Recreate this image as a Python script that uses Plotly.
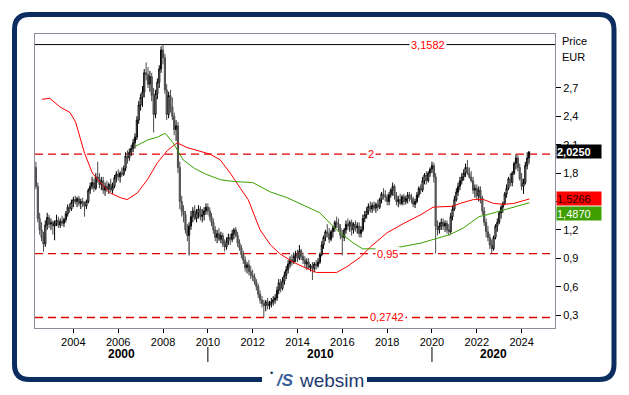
import datetime as dt
import pandas as pd
import plotly.graph_objects as go

# ---------------- data (monthly candles, May 2002 .. May 2024) ----------------
start_month = "2002-05-01"

opens = [
    1.86, 1.66, 1.32, 1.20, 1.12, 1.05, 1.25, 1.33,                          # 2002
    1.26, 1.28, 1.24, 1.27, 1.30, 1.25, 1.29, 1.27, 1.31, 1.37, 1.44, 1.42,  # 2003
    1.49, 1.52, 1.50, 1.53, 1.48, 1.50, 1.47, 1.45, 1.50, 1.62, 1.66, 1.70,  # 2004
    1.64, 1.76, 1.74, 1.68, 1.72, 1.62, 1.66, 1.63, 1.68, 1.62, 1.66, 1.75,  # 2005
    1.79, 1.76, 1.80, 1.79, 1.85, 1.98, 1.96, 2.02, 2.06, 2.12, 2.18, 2.36,  # 2006
    2.52, 2.60, 2.66, 2.86, 2.84, 2.74, 2.82, 2.62, 2.42, 2.64, 2.76, 2.90,  # 2007
    3.10, 3.02, 2.68, 2.42, 2.62, 2.50, 2.40, 2.26, 2.30, 1.86, 1.50, 1.40,  # 2008
    1.36, 1.20, 1.14, 1.24, 1.34, 1.40, 1.32, 1.38, 1.42, 1.34, 1.36, 1.40,  # 2009
    1.44, 1.40, 1.34, 1.28, 1.20, 1.12, 1.16, 1.10, 1.14, 1.05, 1.02, 1.08,  # 2010
    1.12, 1.10, 1.16, 1.20, 1.14, 1.06, 1.01, 0.94, 0.88, 0.80, 0.83, 0.76,  # 2011
    0.72, 0.70, 0.65, 0.60, 0.52, 0.46, 0.42, 0.40, 0.44, 0.40, 0.42, 0.44,  # 2012
    0.46, 0.48, 0.56, 0.64, 0.58, 0.66, 0.72, 0.78, 0.84, 0.88, 0.86, 0.92,  # 2013
    0.94, 0.90, 0.98, 0.92, 0.88, 0.84, 0.86, 0.80, 0.82, 0.79, 0.84, 0.82,  # 2014
    0.86, 0.94, 1.04, 1.12, 1.18, 1.16, 1.10, 1.18, 1.22, 1.28, 1.26, 1.22,  # 2015
    1.14, 1.12, 1.20, 1.26, 1.24, 1.28, 1.20, 1.26, 1.22, 1.24, 1.16, 1.20,  # 2016
    1.32, 1.36, 1.40, 1.45, 1.42, 1.46, 1.43, 1.47, 1.44, 1.52, 1.58, 1.56,  # 2017
    1.55, 1.50, 1.57, 1.62, 1.66, 1.56, 1.50, 1.52, 1.48, 1.55, 1.50, 1.53,  # 2018
    1.57, 1.54, 1.52, 1.47, 1.50, 1.57, 1.64, 1.62, 1.72, 1.78, 1.72, 1.80,  # 2019
    1.84, 1.88, 1.76, 1.24, 1.20, 1.24, 1.28, 1.24, 1.27, 1.20, 1.18, 1.34,  # 2020
    1.42, 1.52, 1.60, 1.66, 1.72, 1.76, 1.80, 1.86, 1.80, 1.76, 1.72, 1.62,  # 2021
    1.64, 1.56, 1.62, 1.54, 1.40, 1.28, 1.18, 1.12, 1.04, 1.00, 1.12, 1.24,  # 2022
    1.28, 1.38, 1.44, 1.48, 1.58, 1.64, 1.74, 1.70, 1.80, 1.90, 1.96, 1.86,  # 2023
    1.74, 1.66, 1.70, 1.88, 1.96,                                            # 2024
]
highs = [
    1.92, 1.70, 1.38, 1.28, 1.18, 1.30, 1.38, 1.36,
    1.32, 1.30, 1.30, 1.36, 1.34, 1.32, 1.35, 1.33, 1.40, 1.47, 1.48, 1.52,
    1.55, 1.56, 1.55, 1.56, 1.53, 1.54, 1.50, 1.52, 1.64, 1.70, 1.76, 1.74,
    1.80, 1.92, 1.80, 1.76, 1.76, 1.70, 1.72, 1.70, 1.74, 1.70, 1.78, 1.82,
    1.84, 1.82, 1.86, 1.88, 2.02, 2.04, 2.06, 2.10, 2.16, 2.22, 2.40, 2.56,
    2.64, 2.72, 2.90, 2.97, 2.92, 2.88, 2.86, 2.70, 2.68, 2.80, 2.94, 3.14,
    3.1582, 3.06, 2.74, 2.66, 2.68, 2.60, 2.44, 2.36, 2.34, 1.92, 1.56, 1.46,
    1.40, 1.26, 1.28, 1.40, 1.44, 1.46, 1.42, 1.46, 1.45, 1.42, 1.44, 1.48,
    1.48, 1.44, 1.38, 1.32, 1.24, 1.20, 1.22, 1.18, 1.17, 1.10, 1.12, 1.16,
    1.16, 1.20, 1.22, 1.23, 1.18, 1.10, 1.04, 0.98, 0.92, 0.86, 0.88, 0.82,
    0.78, 0.74, 0.68, 0.63, 0.56, 0.50, 0.46, 0.46, 0.48, 0.45, 0.48, 0.50,
    0.52, 0.60, 0.68, 0.68, 0.70, 0.76, 0.82, 0.88, 0.92, 0.94, 0.96, 0.98,
    0.99, 1.04, 1.00, 0.96, 0.92, 0.90, 0.90, 0.84, 0.86, 0.86, 0.88, 0.90,
    0.96, 1.08, 1.14, 1.20, 1.26, 1.22, 1.20, 1.24, 1.30, 1.34, 1.32, 1.26,
    1.20, 1.22, 1.30, 1.32, 1.30, 1.31, 1.28, 1.30, 1.28, 1.28, 1.24, 1.36,
    1.40, 1.44, 1.48, 1.50, 1.49, 1.50, 1.49, 1.52, 1.54, 1.60, 1.64, 1.62,
    1.58, 1.60, 1.64, 1.70, 1.68, 1.60, 1.56, 1.58, 1.57, 1.58, 1.56, 1.60,
    1.60, 1.58, 1.55, 1.53, 1.60, 1.66, 1.68, 1.76, 1.80, 1.82, 1.82, 1.86,
    1.92, 1.91, 1.80, 1.30, 1.28, 1.32, 1.32, 1.30, 1.30, 1.26, 1.38, 1.46,
    1.56, 1.64, 1.70, 1.76, 1.80, 1.84, 1.90, 1.94, 1.86, 1.82, 1.76, 1.68,
    1.68, 1.66, 1.66, 1.56, 1.44, 1.32, 1.24, 1.16, 1.10, 1.14, 1.26, 1.32,
    1.40, 1.46, 1.50, 1.60, 1.68, 1.76, 1.80, 1.82, 1.92, 2.00, 1.99, 1.90,
    1.80, 1.74, 1.92, 2.02, 2.03,
]
lows = [
    1.63, 1.28, 1.15, 1.08, 0.97, 1.02, 1.20, 1.22,
    1.20, 1.15, 1.09, 1.24, 1.22, 1.22, 1.24, 1.23, 1.28, 1.34, 1.38, 1.40,
    1.44, 1.47, 1.44, 1.45, 1.42, 1.44, 1.34, 1.42, 1.48, 1.58, 1.63, 1.60,
    1.62, 1.70, 1.64, 1.62, 1.58, 1.56, 1.60, 1.58, 1.60, 1.58, 1.64, 1.70,
    1.72, 1.70, 1.76, 1.77, 1.82, 1.90, 1.93, 1.98, 2.02, 2.06, 2.15, 2.32,
    2.46, 2.50, 2.60, 2.78, 2.70, 2.66, 2.56, 2.23, 2.38, 2.58, 2.70, 2.86,
    2.95, 2.64, 2.36, 2.38, 2.44, 2.36, 2.20, 2.14, 1.80, 1.42, 1.34, 1.28,
    1.16, 1.08, 0.93, 1.20, 1.28, 1.30, 1.28, 1.32, 1.30, 1.28, 1.30, 1.36,
    1.36, 1.30, 1.24, 1.16, 1.08, 1.06, 1.08, 1.06, 1.02, 0.97, 0.99, 1.04,
    1.04, 1.07, 1.10, 1.12, 1.02, 0.98, 0.90, 0.84, 0.76, 0.74, 0.72, 0.68,
    0.66, 0.62, 0.56, 0.48, 0.42, 0.38, 0.2742, 0.34, 0.36, 0.36, 0.38, 0.40,
    0.42, 0.45, 0.52, 0.54, 0.56, 0.62, 0.68, 0.74, 0.80, 0.82, 0.84, 0.86,
    0.86, 0.88, 0.88, 0.84, 0.80, 0.78, 0.78, 0.76, 0.67, 0.75, 0.78, 0.80,
    0.84, 0.92, 1.00, 1.08, 1.12, 1.06, 1.08, 1.12, 1.18, 1.22, 1.18, 1.10,
    0.93, 1.08, 1.16, 1.20, 1.18, 1.14, 1.16, 1.18, 1.16, 1.12, 1.12, 1.18,
    1.28, 1.32, 1.36, 1.38, 1.38, 1.40, 1.38, 1.40, 1.42, 1.48, 1.52, 1.50,
    1.46, 1.46, 1.54, 1.56, 1.52, 1.46, 1.44, 1.46, 1.46, 1.46, 1.47, 1.48,
    1.50, 1.48, 1.44, 1.43, 1.48, 1.54, 1.58, 1.60, 1.68, 1.68, 1.70, 1.76,
    1.80, 1.70, 0.95, 1.14, 1.16, 1.20, 1.20, 1.18, 1.16, 1.14, 1.16, 1.30,
    1.40, 1.50, 1.56, 1.62, 1.68, 1.72, 1.76, 1.78, 1.74, 1.70, 1.58, 1.54,
    1.52, 1.50, 1.48, 1.36, 1.24, 1.12, 1.08, 1.00, 0.95, 0.98, 1.10, 1.18,
    1.26, 1.32, 1.38, 1.46, 1.54, 1.62, 1.66, 1.66, 1.78, 1.84, 1.82, 1.72,
    1.62, 1.58, 1.68, 1.84, 1.90,
]
closes = [
    1.66, 1.32, 1.20, 1.12, 1.05, 1.25, 1.33, 1.26,
    1.28, 1.24, 1.27, 1.30, 1.25, 1.29, 1.27, 1.31, 1.37, 1.44, 1.42, 1.49,
    1.52, 1.50, 1.53, 1.48, 1.50, 1.47, 1.45, 1.50, 1.62, 1.66, 1.70, 1.64,
    1.76, 1.74, 1.68, 1.72, 1.62, 1.66, 1.63, 1.68, 1.62, 1.66, 1.75, 1.79,
    1.76, 1.80, 1.79, 1.85, 1.98, 1.96, 2.02, 2.06, 2.12, 2.18, 2.36, 2.52,
    2.60, 2.66, 2.86, 2.84, 2.74, 2.82, 2.62, 2.42, 2.64, 2.76, 2.90, 3.10,
    3.02, 2.68, 2.42, 2.62, 2.50, 2.40, 2.26, 2.30, 1.86, 1.50, 1.40, 1.36,
    1.20, 1.14, 1.24, 1.34, 1.40, 1.32, 1.38, 1.42, 1.34, 1.36, 1.40, 1.44,
    1.40, 1.34, 1.28, 1.20, 1.12, 1.16, 1.10, 1.14, 1.05, 1.02, 1.08, 1.12,
    1.10, 1.16, 1.20, 1.14, 1.06, 1.01, 0.94, 0.88, 0.80, 0.83, 0.76, 0.72,
    0.70, 0.65, 0.60, 0.52, 0.46, 0.42, 0.40, 0.44, 0.40, 0.42, 0.44, 0.46,
    0.48, 0.56, 0.64, 0.58, 0.66, 0.72, 0.78, 0.84, 0.88, 0.86, 0.92, 0.94,
    0.90, 0.98, 0.92, 0.88, 0.84, 0.86, 0.80, 0.82, 0.79, 0.84, 0.82, 0.86,
    0.94, 1.04, 1.12, 1.18, 1.16, 1.10, 1.18, 1.22, 1.28, 1.26, 1.22, 1.14,
    1.12, 1.20, 1.26, 1.24, 1.28, 1.20, 1.26, 1.22, 1.24, 1.16, 1.20, 1.32,
    1.36, 1.40, 1.45, 1.42, 1.46, 1.43, 1.47, 1.44, 1.52, 1.58, 1.56, 1.55,
    1.50, 1.57, 1.62, 1.66, 1.56, 1.50, 1.52, 1.48, 1.55, 1.50, 1.53, 1.57,
    1.54, 1.52, 1.47, 1.50, 1.57, 1.64, 1.62, 1.72, 1.78, 1.72, 1.80, 1.84,
    1.88, 1.76, 1.24, 1.20, 1.24, 1.28, 1.24, 1.27, 1.20, 1.18, 1.34, 1.42,
    1.52, 1.60, 1.66, 1.72, 1.76, 1.80, 1.86, 1.80, 1.76, 1.72, 1.62, 1.64,
    1.56, 1.62, 1.54, 1.40, 1.28, 1.18, 1.12, 1.04, 1.00, 1.12, 1.24, 1.28,
    1.38, 1.44, 1.48, 1.58, 1.64, 1.74, 1.70, 1.80, 1.90, 1.96, 1.86, 1.74,
    1.66, 1.70, 1.88, 1.96, 2.025,
]

# moving averages (decimal year, value)
ma_red_t = [2002.6, 2002.95, 2003.4, 2003.85, 2004.1, 2004.3, 2004.5, 2004.85, 2005.2,
            2005.65, 2006.1, 2006.4, 2006.85, 2007.3, 2007.75, 2008.2, 2008.63, 2009.07,
            2009.65, 2010.1, 2010.55, 2011.0, 2011.45, 2011.8, 2012.33, 2012.8, 2013.2,
            2013.8, 2014.25, 2014.85, 2015.5, 2015.75, 2016.2, 2016.8, 2017.25, 2018.0,
            2018.75, 2019.5, 2020.05, 2020.95, 2021.25, 2021.85, 2022.3, 2022.75,
            2023.2, 2023.65, 2024.1, 2024.35]
ma_red_v = [2.58, 2.59, 2.50, 2.44, 2.34, 2.17, 2.01, 1.80, 1.70,
            1.59, 1.54, 1.52, 1.59, 1.73, 1.91, 2.04, 2.12, 2.07,
            2.03, 2.00, 1.94, 1.80, 1.64, 1.52, 1.20, 1.04, 0.95,
            0.86, 0.81, 0.75, 0.75, 0.75, 0.81, 0.91, 1.02, 1.17,
            1.27, 1.36, 1.44, 1.45, 1.48, 1.52, 1.52, 1.48,
            1.47, 1.48, 1.51, 1.5266]
ma_green_t = [2006.75, 2007.3, 2007.75, 2008.1, 2008.45, 2008.9, 2009.4, 2009.9, 2010.56,
              2011.2, 2012.0, 2012.8, 2013.54, 2014.56, 2015.0, 2015.45, 2015.9, 2016.5,
              2016.9, 2017.55, 2018.6, 2019.5, 2020.2, 2020.8, 2021.4, 2022.1, 2022.45,
              2023.2, 2023.9, 2024.35]
ma_green_v = [2.08, 2.15, 2.18, 2.22, 2.12, 1.94, 1.85, 1.79, 1.73,
              1.71, 1.70, 1.60, 1.54, 1.43, 1.38, 1.27, 1.17, 1.06,
              1.00, 1.00, 1.02, 1.06, 1.11, 1.15, 1.22, 1.34, 1.36,
              1.41, 1.46, 1.487]

levels = [3.1582, 2.0, 0.95, 0.2742]
level_labels = ["3,1582", "2", "0,95", "0,2742"]
y_ticks = [0.3, 0.6, 0.9, 1.2, 1.5, 1.8, 2.1, 2.4, 2.7]
y_tick_text = ["0,3", "0,6", "0,9", "1,2", "", "1,8", "2,1", "2,4", "2,7"]  # 1,5 hidden by tags
year_ticks = list(range(2004, 2025, 2))
decades = ["2000", "2010", "2020"]
last_price, last_red, last_green = 2.025, 1.5266, 1.487

assert len(opens) == len(highs) == len(lows) == len(closes) == 265

dates = pd.date_range(start_month, periods=len(closes), freq="MS")


def yr(t):
    y = int(t)
    return dt.datetime(y, 1, 1) + dt.timedelta(days=(t - y) * 365.25)


# ---------------- geometry helpers (pixels -> paper) ----------------
W, H = 629, 395
L, R, T, B = 35, 555, 34, 328


def px(x):
    return (x - L) / (R - L)


def py(y):
    return (B - y) / (B - T)


FONT = "Arial, Liberation Sans, sans-serif"
NAVY = "#0c2d60"

fig = go.Figure()
fig.add_trace(go.Candlestick(
    x=dates, open=opens, high=highs, low=lows, close=closes,
    increasing=dict(line=dict(color="#000000", width=1), fillcolor="#ffffff"),
    decreasing=dict(line=dict(color="#4a4a4a", width=1), fillcolor="#6e6e6e"),
    whiskerwidth=0, showlegend=False, hoverinfo="skip"))
fig.add_trace(go.Scatter(x=[yr(t) for t in ma_red_t], y=ma_red_v, mode="lines",
                         line=dict(color="#ff0000", width=1), showlegend=False, hoverinfo="skip"))
fig.add_trace(go.Scatter(x=[yr(t) for t in ma_green_t], y=ma_green_v, mode="lines",
                         line=dict(color="#3aa000", width=1), showlegend=False, hoverinfo="skip"))

shapes = []
annotations = []
label_x = [428, 371, 387, 387]
for lv, lab, lx in zip(levels, level_labels, label_x):
    solid = lab == "3,1582"
    shapes.append(dict(type="line", xref="paper", yref="y", x0=0, x1=1, y0=lv, y1=lv,
                       layer="below",
                       line=dict(color="#000000" if solid else "#e00000", width=1.3 if not solid else 1,
                                 dash="solid" if solid else "8px,5px")))
    annotations.append(dict(xref="paper", yref="y", x=px(lx), y=lv, text=lab, showarrow=False,
                            font=dict(family=FONT, size=11, color="#ff0000"),
                            bgcolor="#ffffff", borderpad=1, xanchor="center", yanchor="middle"))

# price tags on the right
def tag(text, y, bg, fg, bold=False, yshift=0):
    return dict(xref="paper", yref="y", x=px(556), y=y, text=("<b>%s</b>" % text) if bold else text,
                showarrow=False, xanchor="left", yanchor="middle", yshift=yshift,
                width=44, height=13, align="left", bgcolor=bg, borderpad=0,
                font=dict(family=FONT, size=11, color=fg))

annotations.append(tag("2,0250", last_price, "#000000", "#ffffff", bold=True))
annotations.append(tag("1,5266", last_red, "#ff0000", "#2a0000", yshift=0))
annotations.append(tag("1,4870", last_green, "#3f9f00", "#ffffff", yshift=-10.5))

annotations.append(dict(xref="paper", yref="paper", x=px(560), y=py(41), text="Price", showarrow=False,
                        xanchor="left", yanchor="middle", font=dict(family=FONT, size=11, color="#000")))
annotations.append(dict(xref="paper", yref="paper", x=px(560), y=py(57), text="EUR", showarrow=False,
                        xanchor="left", yanchor="middle", font=dict(family=FONT, size=11, color="#000")))

# decade labels and separators
for lab, cx in zip(decades, [121.5, 320, 493.5]):
    annotations.append(dict(xref="paper", yref="paper", x=px(cx), y=py(354), text="<b>%s</b>" % lab,
                            showarrow=False, xanchor="center", yanchor="middle",
                            font=dict(family=FONT, size=12, color="#000")))
for d in ["2010-01-01", "2020-01-01"]:
    shapes.append(dict(type="line", xref="x", yref="paper", x0=d, x1=d, y0=py(347), y1=py(362),
                       line=dict(color="#000", width=1)))

# rounded frame with a gap for the logo
r = 15
x0, x1, y0, y1 = 14.5, 614, 14.5, 379.5
pts = [
    ("M", 367, y1), ("L", x1 - r, y1), ("Q", x1, y1, x1, y1 - r), ("L", x1, y0 + r),
    ("Q", x1, y0, x1 - r, y0), ("L", x0 + r, y0), ("Q", x0, y0, x0, y0 + r),
    ("L", x0, y1 - r), ("Q", x0, y1, x0 + r, y1), ("L", 262, y1),
]
path = ""
for p in pts:
    cmd, coords = p[0], p[1:]
    out = []
    for i in range(0, len(coords), 2):
        out.append("%.5f,%.5f" % (px(coords[i]), py(coords[i + 1])))
    path += cmd + " " + " ".join(out) + " "
shapes.append(dict(type="path", xref="paper", yref="paper", path=path.strip(),
                   line=dict(color=NAVY, width=5)))

# logo
annotations.append(dict(xref="paper", yref="paper", x=px(271), y=py(373), text="•", showarrow=False,
                        xanchor="center", yanchor="middle", font=dict(family=FONT, size=9, color=NAVY)))
annotations.append(dict(xref="paper", yref="paper", x=px(285), y=py(380), text="<b><i>/S</i></b>",
                        showarrow=False, xanchor="center", yanchor="middle",
                        font=dict(family=FONT, size=17, color="#3a5f9a")))
annotations.append(dict(xref="paper", yref="paper", x=px(331), y=py(380), text="websim",
                        showarrow=False, xanchor="center", yanchor="middle",
                        font=dict(family=FONT, size=19, color="#1e3a70")))

fig.update_layout(
    width=W, height=H, margin=dict(l=L, r=W - R, t=T, b=H - B, pad=0),
    paper_bgcolor="#ffffff", plot_bgcolor="#ffffff",
    separators=",.", hovermode=False, showlegend=False, boxgap=0.05,
    shapes=shapes, annotations=annotations,
    font=dict(family=FONT, size=11, color="#000"),
    xaxis=dict(type="date", range=["2002-04-16", "2025-06-28"], rangeslider=dict(visible=False),
               tickvals=["%d-01-01" % y for y in year_ticks], ticktext=[str(y) for y in year_ticks],
               ticks="outside", ticklen=4, tickcolor="#000", tickwidth=1,
               showgrid=False, zeroline=False, showline=True, linecolor="#8c8c9a", linewidth=1,
               mirror=True, tickfont=dict(family=FONT, size=11, color="#000")),
    yaxis=dict(side="right", range=[0.163, 3.27], tickvals=y_ticks, ticktext=y_tick_text,
               ticks="outside", ticklen=5, tickcolor="#000", tickwidth=1,
               showgrid=False, zeroline=False, showline=True, linecolor="#8c8c9a", linewidth=1,
               mirror=True, tickfont=dict(family=FONT, size=11, color="#000")),
)

fig.write_html("out.html", config={"displayModeBar": False, "staticPlot": True},
               post_script="document.body.style.margin='0';document.body.style.overflow='hidden';")
